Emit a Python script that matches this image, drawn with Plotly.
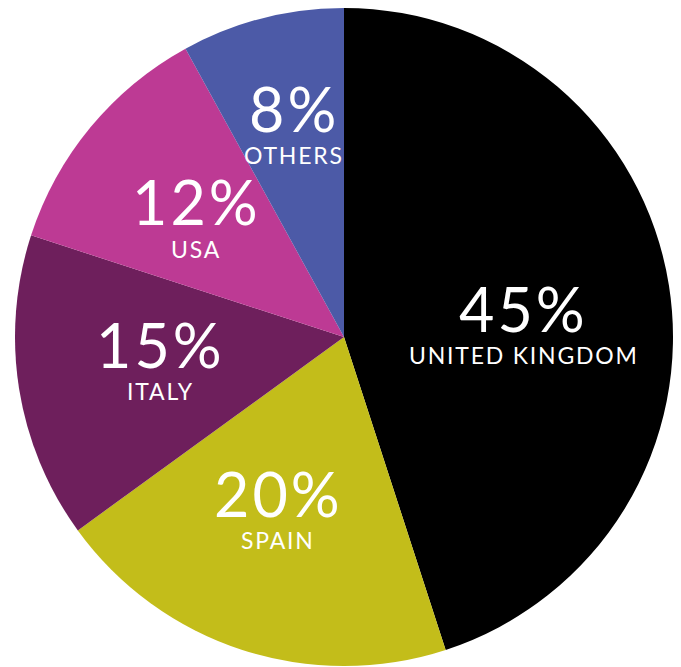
import math
import plotly.graph_objects as go

countries = ["UNITED KINGDOM", "SPAIN", "ITALY", "USA", "OTHERS"]
shares = [45, 20, 15, 12, 8]
colors = ["#000000", "#C3BD1A", "#6E1F5C", "#BD3A94", "#4C5AA7"]

# label placement: fraction of radius along each slice's bisector, and a small angular nudge (deg)
label_r = [0.547, 0.577, 0.566, 0.566, 0.647]
label_dang = [6.8, 2.3, 0.0, -2.2, 0.8]

W, H = 681, 667
PAGE = 8  # default body margin of the html page
dom_x = [(14 - PAGE) / W, (674 - PAGE) / W]
dom_y = [1 - (666 - PAGE) / H, 1 - (8 - PAGE) / H]

fig = go.Figure(go.Pie(
    labels=countries, values=shares, sort=False, direction="clockwise", rotation=0,
    marker=dict(colors=colors, line=dict(width=0)),
    textinfo="none", hoverinfo="label+percent", showlegend=False,
    domain=dict(x=dom_x, y=dom_y),
))

cx = (dom_x[0] + dom_x[1]) / 2 * W
cy = (1 - (dom_y[0] + dom_y[1]) / 2) * H
R = min((dom_x[1] - dom_x[0]) * W, (dom_y[1] - dom_y[0]) * H) / 2
total = sum(shares)
cum = 0
annotations = []
for name, v, fr, da in zip(countries, shares, label_r, label_dang):
    mid = (cum + v / 2) / total * 2 * math.pi + math.radians(da)
    cum += v
    d = fr * R
    px = cx + d * math.sin(mid)
    py = cy - d * math.cos(mid)
    xp, yp = px / W, 1 - py / H
    annotations.append(dict(x=xp, y=yp, xref="paper", yref="paper",
                            text=f"<span style='letter-spacing:3px'>{v}%</span>",
                            showarrow=False, yshift=22, xanchor="center", yanchor="middle",
                            font=dict(family="Lato", size=61, color="white")))
    annotations.append(dict(x=xp, y=yp, xref="paper", yref="paper",
                            text=f"<span style='letter-spacing:1.8px'>{name}</span>",
                            showarrow=False, yshift=-25, xanchor="center", yanchor="middle",
                            font=dict(family="Lato", size=23, color="white")))

fig.update_layout(width=W, height=H, margin=dict(l=0, r=0, t=0, b=0),
                  paper_bgcolor="white", plot_bgcolor="white", annotations=annotations)
fig.write_html("out.html")
